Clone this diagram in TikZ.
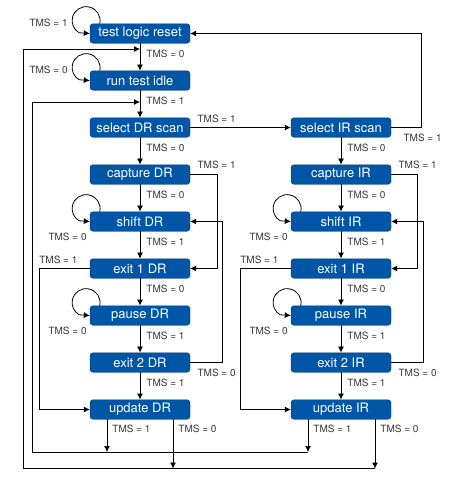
\documentclass[tikz,border=0pt]{standalone}
\usepackage{fontspec}
\setmainfont{TeX Gyre Heros}
\usetikzlibrary{arrows.meta,positioning}
\definecolor{tapblue}{RGB}{0,86,166}
\definecolor{tapedge}{RGB}{0,52,112}
\definecolor{tmsgray}{RGB}{55,55,55}

\begin{document}
\begin{tikzpicture}
	[x=1pt,y=1pt,>={Latex[length=6pt,width=6pt]},
	state/.style={shape=rectangle,rounded corners=3pt,draw=tapedge,fill=tapblue,text=white,minimum width=100pt,minimum height=19.5pt,inner sep=0pt,font=\fontsize{13}{15}\selectfont},
	tms/.style={font=\fontsize{10}{12}\selectfont,text=tmsgray,inner sep=1pt},
	tmsdown/.style={tms,right=5pt,pos=.37},
	wire/.style={draw,line width=.8pt,every edge/.append style={->}}]
	\useasboundingbox (0,0) rectangle (459,-480);
	
	% DR column
	\node [state] (tlr) at (140,-33.5) {test logic reset};
	\node [state] (rti) at (140,-80.5) {run test idle};
	\node [state] (sdr) at (140,-127.5) {select DR scan};
	\node [state] (cdr) at (140,-174.5) {capture DR};
	\node [state] (shdr) at (140,-221.5) {shift DR};
	\node [state] (e1dr) at (140,-268.5) {exit 1 DR};
	\node [state] (pdr) at (140,-315.5) {pause DR};
	\node [state] (e2dr) at (140,-362.5) {exit 2 DR};
	\node [state] (udr) at (140,-409.5) {update DR};
	
	% IR column
	\node [state] (sir) at (341,-127.5) {select IR scan};
	\node [state] (cir) at (341,-174.5) {capture IR};
	\node [state] (shir) at (341,-221.5) {shift IR};
	\node [state] (e1ir) at (341,-268.5) {exit 1 IR};
	\node [state] (pir) at (341,-315.5) {pause IR};
	\node [state] (e2ir) at (341,-362.5) {exit 2 IR};
	\node [state] (uir) at (341,-409.5) {update IR};
	
	\path[wire]
	(tlr) edge node[tmsdown] (t1) {TMS = 0} (rti)
	(rti) edge node[tmsdown] (t2) {TMS = 1} (sdr)
	(sdr) edge node[tmsdown] (t3) {TMS = 0} (cdr)
	(cdr) edge node[tmsdown] (t4) {TMS = 0} (shdr)
	(shdr) edge node[tmsdown] (t5) {TMS = 1} (e1dr)
	(e1dr) edge node[tmsdown] (t6) {TMS = 0} (pdr)
	(pdr) edge node[tmsdown] (t7) {TMS = 1} (e2dr)
	(e2dr) edge node[tmsdown] (t8) {TMS = 1} (udr)
	
	(sir) edge node[tmsdown] (i3) {TMS = 0} (cir)
	(cir) edge node[tmsdown] (i4) {TMS = 0} (shir)
	(shir) edge node[tmsdown] (i5) {TMS = 1} (e1ir)
	(e1ir) edge node[tmsdown] (i6) {TMS = 0} (pir)
	(pir) edge node[tmsdown] (i7) {TMS = 1} (e2ir)
	(e2ir) edge node[tmsdown] (i8) {TMS = 1} (uir)
	
	(sdr) edge node[tms,above right=3pt and 6pt,pos=0] (s1) {TMS = 1} (sir)
	;
	
	% self loops
	\draw[wire,->] ([xshift=10pt]tlr.north west) arc[start angle=-12,end angle=240,radius=14pt] -- (tlr.west);
	\draw[wire,->] ([xshift=10pt]rti.north west) arc[start angle=-12,end angle=240,radius=14pt] -- (rti.west);
	\draw[wire,->] ([xshift=10pt]shdr.north west) arc[start angle=-12,end angle=240,radius=14pt] -- (shdr.west);
	\draw[wire,->] ([xshift=10pt]pdr.north west) arc[start angle=-12,end angle=240,radius=14pt] -- (pdr.west);
	\draw[wire,->] ([xshift=10pt]shir.north west) arc[start angle=-12,end angle=240,radius=14pt] -- (shir.west);
	\draw[wire,->] ([xshift=10pt]pir.north west) arc[start angle=-12,end angle=240,radius=14pt] -- (pir.west);
	\node [tms,above left=6pt and 21pt of tlr.west] (lp1) {TMS = 1};
	\node [tms,above left=6pt and 21pt of rti.west] (lp2) {TMS = 0};
	\node [tms,below left=10pt and 2pt of shdr.west] (lp3) {TMS = 0};
	\node [tms,below left=10pt and 2pt of pdr.west] (lp4) {TMS = 0};
	\node [tms,below left=10pt and 2pt of shir.west] (lp5) {TMS = 0};
	\node [tms,below left=10pt and 2pt of pir.west] (lp6) {TMS = 0};
	
	% side paths
	\draw[wire,->] (sir.east) node[tms,below right=5pt and 11pt] (s2) {TMS = 1} -- ++(30,0) |- (tlr.east);
	\draw[wire,->] (cdr.east) node[tms,above right=4pt and 6pt] (c1) {TMS = 1} -- ++(27,0) |- (e1dr.east);
	\draw[wire,->] (e2dr.east) node[tms,below right=5pt and 6pt] (c2) {TMS = 0} -- ++(32,0) |- (shdr.east);
	\draw[wire,->] (e1dr.west) node[tms,above left=3pt and 11pt] (c3) {TMS = 1} -- ++(-50,0) |- (udr.west);
	\draw[wire,->] (cir.east) node[tms,above right=4pt and 6pt] (c4) {TMS = 1} -- ++(26,0) |- (e1ir.east);
	\draw[wire,->] (e2ir.east) node[tms,below right=5pt and 6pt] (c5) {TMS = 0} -- ++(32,0) |- (shir.east);
	\draw[wire,->] (e1ir.west) node[tms,above left=3pt and 11pt] (c6) {TMS = 1} -- ++(-50,0) |- (uir.west);
	
	% back to idle / select DR
	\coordinate (d1) at ([shift={(-33,-42.5)}]udr.center);
	\coordinate (d0) at ([shift={(33,-59)}]udr.center);
	\coordinate (b1) at ([shift={(-33,-42.5)}]uir.center);
	\coordinate (b0) at ([shift={(34,-59)}]uir.center);
	\coordinate (r1) at (140,-102);
	\coordinate (r0) at (140,-49);
	\path[wire]
	([xshift=-33pt]udr.south) edge node[tms,right=4pt,pos=.3] (u1) {TMS = 1} (d1)
	([xshift=33pt]udr.south) edge node[tms,right=4pt,pos=.2] (u2) {TMS = 0} (d0)
	([xshift=-33pt]uir.south) edge node[tms,right=4pt,pos=.3] (u3) {TMS = 1} (b1)
	([xshift=34pt]uir.south) edge node[tms,right=4pt,pos=.2] (u4) {TMS = 0} (b0)
	;
	\draw[wire,->] (b1) -- (32,-452) |- (r1);
	\draw[wire,->] (b0) -- (23,-468.5) |- (r0);
	
\end{tikzpicture}
\end{document}
